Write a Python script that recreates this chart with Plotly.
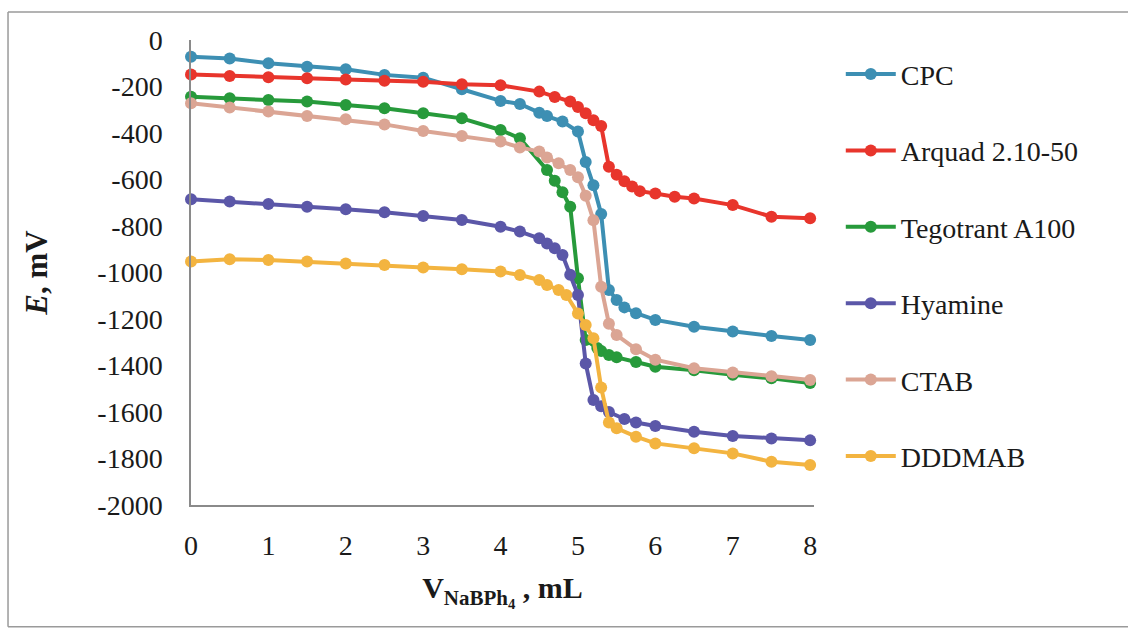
import plotly.graph_objects as go

names = ["CPC", "Arquad 2.10-50", "Tegotrant A100", "Hyamine", "CTAB", "DDDMAB"]
colors = ["#3d8fb3", "#e8352c", "#279a3b", "#5b57a8", "#dba594", "#f3b440"]

cpc_x = [0, 0.5, 1, 1.5, 2, 2.5, 3, 3.5, 4, 4.25, 4.5, 4.6, 4.8, 5.0, 5.1, 5.2, 5.3, 5.4, 5.5, 5.6, 5.75, 6, 6.5, 7, 7.5, 8]
cpc_y = [-72, -80, -100, -115, -126, -150, -162, -212, -262, -275, -313, -327, -351, -394, -525, -625, -748, -1075, -1118, -1150, -1175, -1204, -1233, -1254, -1273, -1290]

arq_x = [0, 0.5, 1, 1.5, 2, 2.5, 3, 3.5, 4, 4.5, 4.7, 4.9, 5.0, 5.1, 5.2, 5.3, 5.4, 5.5, 5.6, 5.7, 5.8, 6, 6.25, 6.5, 7, 7.5, 8]
arq_y = [-148, -155, -160, -165, -170, -175, -180, -190, -195, -222, -245, -265, -288, -315, -345, -370, -545, -580, -608, -630, -650, -660, -674, -682, -710, -760, -767]

teg_x = [0, 0.5, 1, 1.5, 2, 2.5, 3, 3.5, 4, 4.25, 4.6, 4.7, 4.8, 4.9, 5.0, 5.1, 5.25, 5.3, 5.4, 5.5, 5.75, 6, 6.5, 7, 7.5, 8]
teg_y = [-244, -251, -258, -265, -280, -294, -315, -337, -387, -423, -559, -605, -655, -717, -1025, -1290, -1325, -1338, -1355, -1365, -1385, -1405, -1420, -1440, -1455, -1475]

hya_x = [0, 0.5, 1, 1.5, 2, 2.5, 3, 3.5, 4, 4.25, 4.5, 4.6, 4.7, 4.8, 4.9, 5.0, 5.1, 5.2, 5.3, 5.4, 5.6, 5.75, 6, 6.5, 7, 7.5, 8]
hya_y = [-685, -695, -705, -717, -728, -741, -757, -774, -803, -824, -853, -875, -896, -925, -1010, -1097, -1391, -1548, -1575, -1600, -1630, -1645, -1660, -1685, -1703, -1714, -1722]

ctab_x = [0, 0.5, 1, 1.5, 2, 2.5, 3, 3.5, 4, 4.25, 4.5, 4.6, 4.75, 4.9, 5.0, 5.1, 5.2, 5.3, 5.4, 5.5, 5.75, 6, 6.5, 7, 7.5, 8]
ctab_y = [-272, -290, -308, -327, -341, -363, -391, -413, -437, -462, -480, -505, -530, -559, -590, -670, -775, -1061, -1220, -1269, -1330, -1375, -1412, -1430, -1446, -1462]

ddd_x = [0, 0.5, 1, 1.5, 2, 2.5, 3, 3.5, 4, 4.25, 4.5, 4.6, 4.75, 4.85, 5.0, 5.1, 5.2, 5.3, 5.4, 5.5, 5.75, 6, 6.5, 7, 7.5, 8]
ddd_y = [-953, -943, -946, -953, -961, -968, -978, -986, -996, -1011, -1032, -1054, -1075, -1097, -1176, -1226, -1283, -1495, -1645, -1670, -1706, -1735, -1756, -1778, -1814, -1828]

series = [(cpc_x, cpc_y), (arq_x, arq_y), (teg_x, teg_y), (hya_x, hya_y), (ctab_x, ctab_y), (ddd_x, ddd_y)]

x_ticks = [0, 1, 2, 3, 4, 5, 6, 7, 8]
y_ticks = [0, -200, -400, -600, -800, -1000, -1200, -1400, -1600, -1800, -2000]

fig = go.Figure()
for (xs, ys), name, col in zip(series, names, colors):
    fig.add_trace(go.Scatter(
        x=xs, y=ys, name=name, mode="lines+markers", legendgroup=name,
        line=dict(color=col, width=4),
        marker=dict(color=col, size=12),
        cliponaxis=False,
    ))

font_family = "Liberation Serif, Times New Roman, serif"

# scanned page frame (left, top, bottom edges)
frame = dict(type="line", xref="paper", yref="paper", line=dict(color="#9a9a9a", width=1.5))
fig.add_shape(**frame, x0=-0.2937, x1=-0.2937, y0=-0.262, y1=1.060)
fig.add_shape(**frame, x0=-0.2937, x1=1.504, y0=1.060, y1=1.060)
fig.add_shape(**frame, x0=-0.2937, x1=1.504, y0=-0.262, y1=-0.262)

fig.update_layout(
    width=1131, height=630,
    paper_bgcolor="white", plot_bgcolor="white",
    margin=dict(l=191, r=317, t=40, b=125, autoexpand=False),
    font=dict(family=font_family, size=27, color="#1a1a1a"),
    showlegend=True,
    legend=dict(
        x=1.043, y=0.98, xanchor="left", yanchor="top",
        font=dict(family=font_family, size=28, color="#1a1a1a"),
        tracegroupgap=37, itemwidth=50,
        bgcolor="rgba(0,0,0,0)",
    ),
    xaxis=dict(
        range=[0, 8.05], tickvals=x_ticks, ticktext=[str(v) for v in x_ticks],
        showgrid=False, zeroline=False, showline=True, linecolor="#8a8a8a", linewidth=1.5,
        ticks="", ticklabelstandoff=15, automargin=False,
        tickfont=dict(family=font_family, size=28, color="#1a1a1a"),
        title=dict(text="<b>V<sub>NaBPh<sub>4</sub></sub> , mL</b>",
                   font=dict(family=font_family, size=30, color="#1a1a1a"), standoff=17),
    ),
    yaxis=dict(
        range=[-2000, 0], tickvals=y_ticks, ticktext=[str(v) for v in y_ticks],
        showgrid=False, zeroline=False, showline=True, linecolor="#8a8a8a", linewidth=1.5,
        ticks="", ticklabelstandoff=21, automargin=False,
        tickfont=dict(family=font_family, size=28, color="#1a1a1a"),
        title=dict(text="<b><i>E</i>, mV</b>",
                   font=dict(family=font_family, size=31, color="#1a1a1a"), standoff=40),
    ),
)

fig.write_html("out.html", post_script="document.body.style.margin='0';",
               config={"displayModeBar": False})
